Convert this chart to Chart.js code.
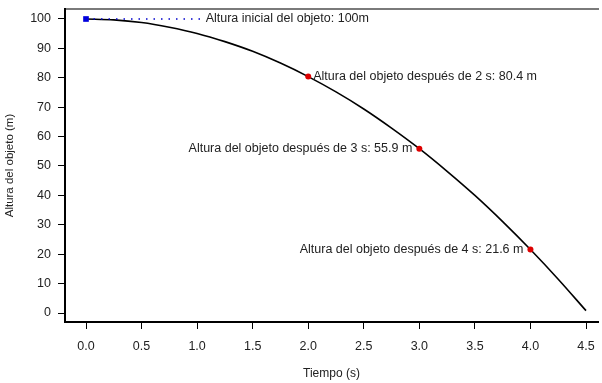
<!DOCTYPE html>
<html>
<head>
<meta charset="utf-8">
<script src="https://cdn.jsdelivr.net/npm/chart.js@4"></script>
<style>
    html, body { margin: 0; padding: 0; background: #fff; }
    #wrap { width: 602px; height: 383px; }
</style>
</head>
<body>
<div id="wrap"><canvas id="fallChart" width="602" height="383"></canvas></div>
<script>
// values
const tiempos = [0, 0.25, 0.5, 0.75, 1, 1.25, 1.5, 1.75, 2, 2.25, 2.5, 2.75, 3, 3.25, 3.5, 3.75, 4, 4.25, 4.5];
const alturas = [100, 99.7, 98.8, 97.2, 95.1, 92.3, 89.0, 85.0, 80.4, 75.2, 69.4, 62.9, 55.9, 48.2, 40.0, 31.1, 21.6, 11.5, 0.8];

const puntosT = [2, 3, 4];
const puntosH = [80.4, 55.9, 21.6];
const etiquetas = [
    'Altura del objeto después de 2 s: 80.4 m',
    'Altura del objeto después de 3 s: 55.9 m',
    'Altura del objeto después de 4 s: 21.6 m'
];
const ladoEtiqueta = ['right', 'left', 'left'];

const alturaInicial = 100;
const finPunteado = 1.05;
const textoInicial = 'Altura inicial del objeto: 100m';

const xTicks = [0, 0.5, 1, 1.5, 2, 2.5, 3, 3.5, 4, 4.5];
const yTicks = [0, 10, 20, 30, 40, 50, 60, 70, 80, 90, 100];

const fuente = '"Liberation Sans", Arial, sans-serif';

const annotations = {
    id: 'annotations',
    afterDraw(chart) {
        const { ctx, scales: { x, y } } = chart;
        ctx.save();
        ctx.font = '12.5px ' + fuente;
        ctx.fillStyle = '#222';
        ctx.textBaseline = 'middle';
        ctx.textAlign = 'left';
        ctx.fillText(textoInicial, x.getPixelForValue(finPunteado) + 3, y.getPixelForValue(alturaInicial));

        etiquetas.forEach((txt, i) => {
            const px = x.getPixelForValue(puntosT[i]);
            const py = y.getPixelForValue(puntosH[i]);
            if (ladoEtiqueta[i] === 'right') {
                ctx.textAlign = 'left';
                ctx.fillText(txt, px + 5, py);
            } else {
                ctx.textAlign = 'right';
                ctx.fillText(txt, px - 7, py);
            }
        });
        ctx.restore();
    }
};

new Chart(document.getElementById('fallChart'), {
    type: 'scatter',
    data: {
        datasets: [
            {
                label: 'inicial',
                data: [{ x: 0, y: alturaInicial }],
                pointStyle: 'rect',
                pointRadius: 4,
                backgroundColor: '#0000dd',
                borderColor: '#0000dd',
                borderWidth: 0,
                order: 0
            },
            {
                label: 'puntos',
                data: puntosT.map((t, i) => ({ x: t, y: puntosH[i] })),
                pointRadius: 3,
                backgroundColor: '#dd0000',
                borderColor: '#dd0000',
                borderWidth: 0,
                order: 0
            },
            {
                label: 'punteado',
                data: [{ x: 0, y: alturaInicial }, { x: finPunteado, y: alturaInicial }],
                showLine: true,
                borderColor: '#0000cc',
                borderWidth: 1.5,
                borderDash: [1.5, 6],
                pointRadius: 0,
                order: 1
            },
            {
                label: 'altura',
                data: tiempos.map((t, i) => ({ x: t, y: alturas[i] })),
                showLine: true,
                borderColor: '#000',
                borderWidth: 1.6,
                pointRadius: 0,
                cubicInterpolationMode: 'monotone',
                order: 2
            }
        ]
    },
    options: {
        responsive: false,
        animation: false,
        layout: { padding: { top: 9, right: 0, left: 0, bottom: 0 } },
        plugins: {
            legend: { display: false },
            tooltip: { enabled: false }
        },
        scales: {
            x: {
                type: 'linear',
                min: -0.189,
                max: 4.608,
                afterBuildTicks: (scale) => { scale.ticks = xTicks.map(v => ({ value: v })); },
                afterFit: (scale) => {
                    scale.height = 61;
                    scale.paddingLeft = 0;
                    scale.paddingRight = 0;
                },
                grid: { drawOnChartArea: false, drawTicks: true, tickLength: 7, color: '#000', lineWidth: 1 },
                border: { display: true, color: '#000', width: 2 },
                ticks: {
                    color: '#222',
                    font: { size: 12.5, family: fuente },
                    padding: 10,
                    maxRotation: 0,
                    callback: (v) => Number(v).toFixed(1)
                },
                title: {
                    display: true,
                    text: 'Tiempo (s)',
                    color: '#222',
                    font: { size: 12, family: fuente },
                    padding: { top: 0, bottom: 2 }
                }
            },
            marco: {
                type: 'linear',
                position: 'top',
                min: 0,
                max: 1,
                afterFit: (scale) => {
                    scale.height = 0;
                    scale.paddingLeft = 0;
                    scale.paddingRight = 0;
                },
                grid: { drawOnChartArea: false, drawTicks: false },
                border: { display: true, color: '#7a7a7a', width: 2 },
                ticks: { display: false }
            },
            y: {
                min: -3.06,
                max: 103.4,
                afterBuildTicks: (scale) => { scale.ticks = yTicks.map(v => ({ value: v })); },
                afterFit: (scale) => {
                    scale.width = 65;
                    scale.paddingTop = 0;
                    scale.paddingBottom = 0;
                },
                grid: { drawOnChartArea: false, drawTicks: true, tickLength: 7, color: '#000', lineWidth: 1 },
                border: { display: true, color: '#000', width: 2 },
                ticks: {
                    color: '#222',
                    font: { size: 12.5, family: fuente },
                    padding: 7
                },
                title: {
                    display: true,
                    text: 'Altura del objeto (m)',
                    color: '#222',
                    font: { size: 11.5, family: fuente },
                    padding: { top: 3, bottom: 0 }
                }
            }
        }
    },
    plugins: [annotations]
});
</script>
</body>
</html>
